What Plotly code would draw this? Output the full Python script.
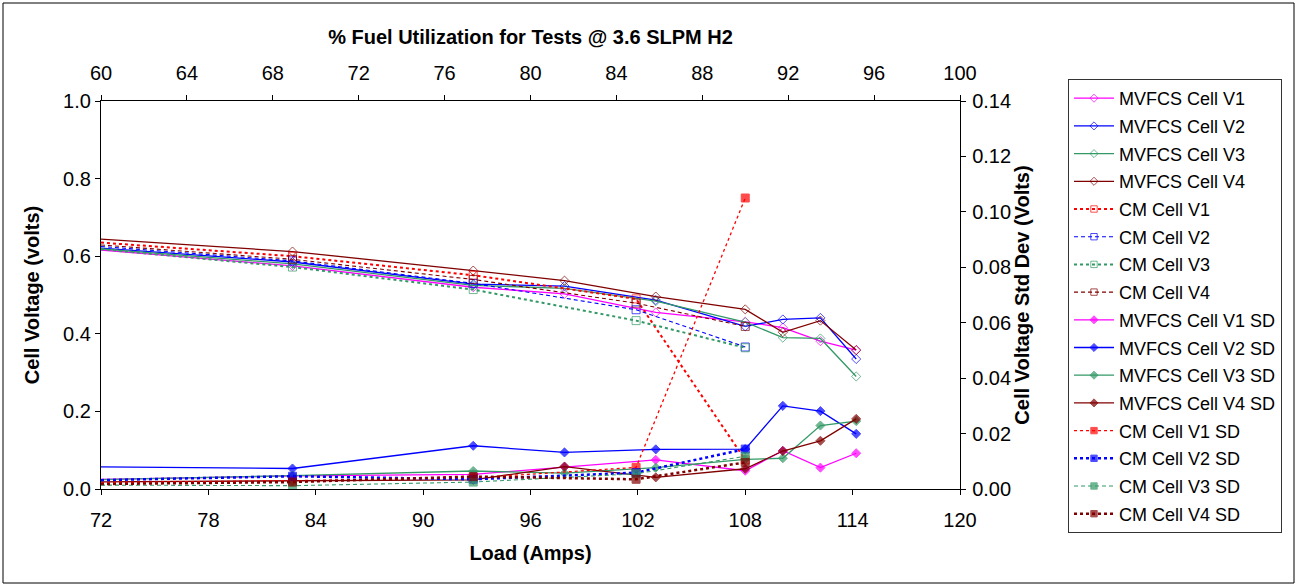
import plotly.graph_objects as go

# ---------------- data ----------------
load_mv = [72, 82.7, 92.8, 97.9, 103.0, 108.0, 110.1, 112.2, 114.2]
load_cm = [72, 82.7, 92.8, 101.9, 108.0]

mv_v1 = [0.616, 0.575, 0.520, 0.503, 0.455, 0.431, 0.416, 0.381, 0.358]
mv_v2 = [0.621, 0.585, 0.528, 0.523, 0.487, 0.419, 0.437, 0.441, 0.335]
mv_v3 = [0.619, 0.580, 0.525, 0.517, 0.484, 0.430, 0.390, 0.388, 0.290]
mv_v4 = [0.644, 0.612, 0.563, 0.537, 0.496, 0.463, 0.404, 0.434, 0.358]

cm_v1 = [0.635, 0.600, 0.551, 0.490, 0.075]
cm_v2 = [0.625, 0.588, 0.530, 0.462, 0.366]
cm_v3 = [0.618, 0.572, 0.514, 0.434, 0.364]
cm_v4 = [0.629, 0.592, 0.540, 0.479, 0.419]

mv_sd1 = [0.0035, 0.0047, 0.0053, 0.0080, 0.0105, 0.0066, 0.0138, 0.0077, 0.0129]
mv_sd2 = [0.0080, 0.0074, 0.0156, 0.0132, 0.0143, 0.0144, 0.0300, 0.0281, 0.0199]
mv_sd3 = [0.0034, 0.0048, 0.0065, 0.0057, 0.0077, 0.0107, 0.0111, 0.0229, 0.0245]
mv_sd4 = [0.0026, 0.0030, 0.0033, 0.0081, 0.0042, 0.0073, 0.0137, 0.0174, 0.0253]

cm_sd1 = [0.0023, 0.0030, 0.0040, 0.0078, 0.1050]
cm_sd2 = [0.0032, 0.0046, 0.0035, 0.0059, 0.0144]
cm_sd3 = [0.0014, 0.0012, 0.0025, 0.0055, 0.0118]
cm_sd4 = [0.0018, 0.0025, 0.0045, 0.0035, 0.0096]

x_ticks = [72, 78, 84, 90, 96, 102, 108, 114, 120]
top_ticks = [60, 64, 68, 72, 76, 80, 84, 88, 92, 96, 100]
UTIL_PER_AMP = 1 / 1.2  # fuel utilisation (%) per amp at 3.6 SLPM H2
fuel_util = [l * UTIL_PER_AMP for l in load_mv]

# ---------------- styles ----------------
MAG, BLU, GRN, DRD, RED = "#FF00FF", "#0000FF", "#339966", "#800000", "#FF0000"
XMIN, XMAX = 72, 120


def sizes(xs, s):
    return [0 if x <= XMIN else s for x in xs]


fig = go.Figure()


def add(name, xs, ys, color, dash, width, symbol, msize, axis="y"):
    fig.add_trace(go.Scatter(
        x=xs, y=ys, name=name, legendgroup=name, mode="lines+markers", yaxis=axis,
        line=dict(color=color, dash=dash, width=width),
        marker=dict(symbol=symbol, size=sizes(xs, msize), color=color,
                    line=dict(color=color, width=1)),
    ))


SHORTDASH = "4px,3px"
add("MVFCS Cell V1", load_mv, mv_v1, MAG, "solid", 1.3, "diamond-open", 7)
add("MVFCS Cell V2", load_mv, mv_v2, BLU, "solid", 1.3, "diamond-open", 7)
add("MVFCS Cell V3", load_mv, mv_v3, GRN, "solid", 1.3, "diamond-open", 7)
add("MVFCS Cell V4", load_mv, mv_v4, DRD, "solid", 1.3, "diamond-open", 7)
add("CM Cell V1", load_cm, cm_v1, RED, "dot", 2, "square-open", 8)
add("CM Cell V2", load_cm, cm_v2, BLU, SHORTDASH, 1.1, "square-open", 8)
add("CM Cell V3", load_cm, cm_v3, GRN, "dot", 2, "square-open", 8)
add("CM Cell V4", load_cm, cm_v4, DRD, SHORTDASH, 1.1, "square-open", 8)

add("MVFCS Cell V1 SD", load_mv, mv_sd1, MAG, "solid", 1.3, "diamond", 7, "y2")
add("MVFCS Cell V2 SD", load_mv, mv_sd2, BLU, "solid", 1.3, "diamond", 7, "y2")
add("MVFCS Cell V3 SD", load_mv, mv_sd3, GRN, "solid", 1.3, "diamond", 7, "y2")
add("MVFCS Cell V4 SD", load_mv, mv_sd4, DRD, "solid", 1.3, "diamond", 7, "y2")
add("CM Cell V1 SD", load_cm, cm_sd1, RED, "dot", 1.3, "square", 8, "y2")
add("CM Cell V2 SD", load_cm, cm_sd2, BLU, "dot", 2.5, "square", 8, "y2")
add("CM Cell V3 SD", load_cm, cm_sd3, GRN, SHORTDASH, 1.1, "square", 8, "y2")
add("CM Cell V4 SD", load_cm, cm_sd4, DRD, "dot", 2.5, "square", 8, "y2")

# invisible trace so the top (fuel utilisation) axis is drawn
fig.add_trace(go.Scatter(x=fuel_util, y=mv_v1, xaxis="x2", yaxis="y", mode="markers",
                         marker=dict(opacity=0, size=1), showlegend=False, hoverinfo="skip"))

FONT = "Liberation Sans, Arial, sans-serif"
W, H = 1297, 586
L, R, T, B = 101, 337, 101, 97
pw, ph = W - L - R, H - T - B


def px(xp):
    return (xp - L) / pw


def py(yp):
    return (H - B - yp) / ph


axis_common = dict(showline=True, linecolor="black", linewidth=1.3, ticks="outside",
                   ticklen=5, tickcolor="black", showgrid=False, zeroline=False,
                   tickfont=dict(family=FONT, size=20, color="black"), mirror=False)
TFONT = dict(size=20, family=FONT, color="black")

fig.update_layout(
    width=W, height=H,
    margin=dict(l=L, r=R, t=T, b=B, autoexpand=False),
    paper_bgcolor="white", plot_bgcolor="white",
    font=dict(family=FONT, color="black"),
    xaxis=dict(range=[XMIN, XMAX], tickvals=x_ticks, ticktext=[str(v) for v in x_ticks],
               ticklabelstandoff=8,
               title=dict(text="<b>Load (Amps)</b>", font=TFONT, standoff=15),
               **axis_common),
    xaxis2=dict(range=[60, 100], tickvals=top_ticks, ticktext=[str(v) for v in top_ticks],
                overlaying="x", side="top", anchor="y", ticklabelstandoff=7,
                title=dict(text="<b>% Fuel Utilization for Tests @ 3.6 SLPM H2</b>",
                           font=TFONT, standoff=11),
                **axis_common),
    yaxis=dict(range=[0, 1], dtick=0.2, tickformat=".1f",
               title=dict(text="<b>Cell Voltage (volts)</b>", font=TFONT, standoff=18),
               **axis_common),
    yaxis2=dict(range=[0, 0.14], dtick=0.02, tickformat=".2f", overlaying="y", side="right",
                ticklabelstandoff=2,
                title=dict(text="<b>Cell Voltage Std Dev (Volts)</b>", font=TFONT, standoff=0),
                **axis_common),
    legend=dict(x=px(1068), y=py(79), xanchor="left", yanchor="top",
                bordercolor="#333333", borderwidth=1, bgcolor="white",
                font=dict(family=FONT, size=18, color="black"),
                itemwidth=40, tracegroupgap=1.3, maxheight=540),
    shapes=[dict(type="rect", xref="paper", yref="paper",
                 x0=px(3), x1=px(1294), y0=py(583), y1=py(3),
                 line=dict(color="black", width=1))],
)

fig.write_html("out.html", config={"displayModeBar": False},
               post_script="document.body.style.margin='0';")
